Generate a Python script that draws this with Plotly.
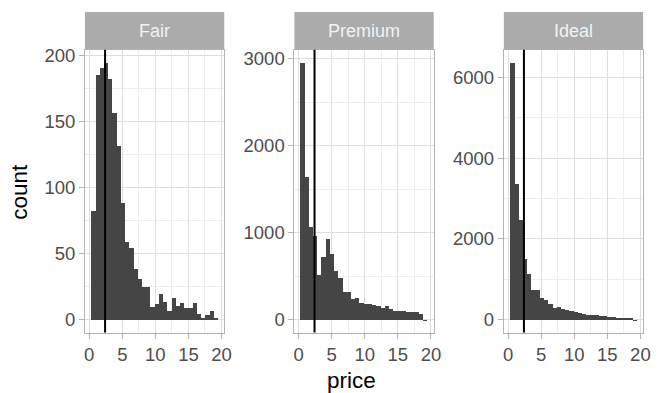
import plotly.graph_objects as go

# Price histograms (thousands of USD), 30 bins shared by every cut
cuts = ["Fair", "Premium", "Ideal"]
bin_start = 0.319
bin_width = 0.638
fair_counts = [83, 186, 191, 195, 183, 157, 132, 89, 59, 55, 39, 31, 25, 25, 10,
               12, 20, 14, 7, 17, 11, 13, 9, 9, 13, 5, 2, 4, 7, 2]
premium_counts = [2955, 1642, 1068, 970, 521, 725, 936, 755, 566, 483, 328, 328, 245, 257, 196,
                  189, 189, 180, 158, 143, 158, 132, 106, 106, 106, 94, 94, 94, 75, 2]
ideal_counts = [6366, 3374, 2480, 1504, 1138, 756, 756, 553, 488, 390, 300, 325, 285, 250, 240,
                200, 170, 160, 130, 125, 120, 115, 100, 90, 70, 65, 65, 60, 60, 1]
median_price = 2.401
x_ticks = [0, 5, 10, 15, 20]
y_ticks = {"Fair": [0, 50, 100, 150, 200],
           "Premium": [0, 1000, 2000, 3000],
           "Ideal": [0, 2000, 4000, 6000]}
counts = {"Fair": fair_counts, "Premium": premium_counts, "Ideal": ideal_counts}

W, H = 660, 393
panel_x = [(85, 226), (297, 438), (509, 650)]
panel_top, panel_bottom = 46, 332
strip_top = 8

FONT = "Liberation Sans, Arial, Helvetica, sans-serif"
BAR = "#454545"
GRID = "#DEDEDE"
GRID_MINOR = "#EDEDED"
BORDER = "#B3B3B3"

n_bins = len(fair_counts)
centers = [bin_start + bin_width * (k + 0.5) for k in range(n_bins)]
x_lo = bin_start - 0.05 * (bin_width * n_bins)
x_hi = bin_start + bin_width * n_bins + 0.05 * (bin_width * n_bins)

fig = go.Figure()
shapes = []
annotations = []

for i, cut in enumerate(cuts):
    ax = "" if i == 0 else str(i + 1)
    vals = counts[cut]
    fig.add_trace(go.Bar(
        x=centers, y=vals, width=[bin_width] * n_bins,
        marker=dict(color=BAR, line=dict(width=0)),
        xaxis="x" + ax, yaxis="y" + ax, showlegend=False, hoverinfo="x+y",
    ))
    x0, x1 = panel_x[i]
    top = max(vals)
    xdom = [x0 / W, x1 / W]
    ydom = [1 - panel_bottom / H, 1 - panel_top / H]
    common = dict(
        showline=True, mirror=True, linecolor=BORDER, linewidth=1,
        showgrid=True, gridcolor=GRID, gridwidth=1, zeroline=False,
        ticks="outside", ticklen=5, tickcolor=BORDER, tickwidth=1,
        tickfont=dict(family=FONT, size=18.5, color="#4D4D4D"),
    )
    fig.layout["xaxis" + ax] = dict(
        common, domain=xdom, range=[x_lo, x_hi], tickvals=x_ticks,
        anchor="y" + ax,
        minor=dict(tickvals=[2.5, 7.5, 12.5, 17.5], showgrid=True,
                   gridcolor=GRID_MINOR, gridwidth=1, ticks=""),
    )
    yt = y_ticks[cut]
    step = yt[1] - yt[0]
    fig.layout["yaxis" + ax] = dict(
        common, domain=ydom, range=[-0.05 * top, 1.05 * top], tickvals=yt,
        anchor="x" + ax,
        minor=dict(tickvals=[v + step / 2 for v in yt], showgrid=True,
                   gridcolor=GRID_MINOR, gridwidth=1, ticks=""),
    )
    # median line across the whole panel
    shapes.append(dict(type="line", xref="x" + ax, yref="y" + ax + " domain",
                       x0=median_price, x1=median_price, y0=0, y1=1,
                       line=dict(color="black", width=2)))
    # facet strip
    shapes.append(dict(type="rect", xref="paper", yref="paper",
                       x0=x0 / W, x1=x1 / W, y0=1 - panel_top / H, y1=1 - strip_top / H,
                       fillcolor="#ABABAB", line=dict(width=0), layer="above"))
    annotations.append(dict(text=cut, xref="paper", yref="paper",
                            x=(x0 + x1) / 2 / W, y=1 - (panel_top + strip_top) / 2 / H,
                            showarrow=False, xanchor="center", yanchor="middle",
                            font=dict(family=FONT, size=18, color="#F2F2F2")))

annotations.append(dict(text="price", xref="paper", yref="paper",
                        x=355 / W, y=1 - 380 / H, showarrow=False,
                        xanchor="center", yanchor="middle",
                        font=dict(family=FONT, size=22.5, color="black")))
annotations.append(dict(text="count", xref="paper", yref="paper",
                        x=18 / W, y=1 - 190 / H, showarrow=False, textangle=-90,
                        xanchor="center", yanchor="middle",
                        font=dict(family=FONT, size=22.5, color="black")))

fig.update_layout(
    width=W, height=H, margin=dict(l=0, r=0, t=0, b=0),
    paper_bgcolor="white", plot_bgcolor="white",
    bargap=0, shapes=shapes, annotations=annotations,
)

fig.write_html("out.html")
